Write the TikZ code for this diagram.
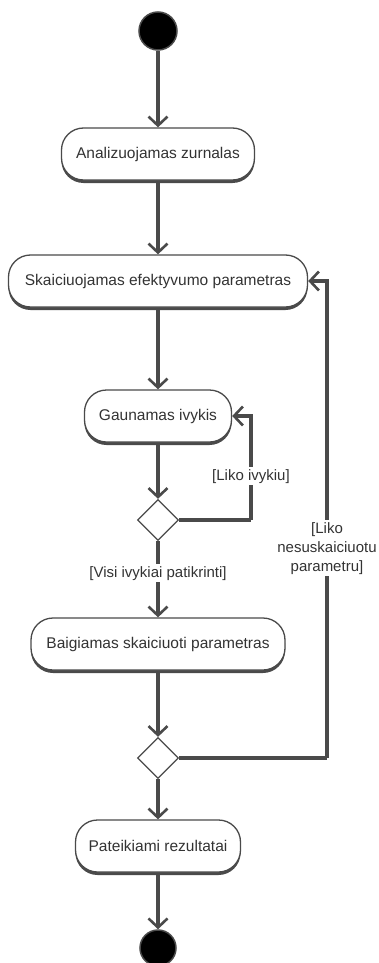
\documentclass[tikz,border=0pt]{standalone}
\usepackage{fontspec}
\setmainfont{Liberation Sans}
\usetikzlibrary{arrows.meta,shapes.geometric,shadows,calc}
\definecolor{linec}{HTML}{4A4A4A}
\definecolor{textc}{HTML}{333333}
\begin{document}
\begin{tikzpicture}[x=1pt,y=-1pt,
  act/.style={draw=linec, line width=1.3pt, fill=white, rounded corners=22pt,
    minimum height=52pt, inner sep=0pt, text=textc,
    font=\fontsize{15.5}{18}\selectfont,
    drop shadow={shadow xshift=0pt, shadow yshift=-3pt, fill=linec, opacity=1}},
  dec/.style={draw=linec, line width=1.3pt, fill=white, diamond, aspect=1,
    minimum width=41pt, minimum height=41pt, inner sep=0pt},
  blob/.style={circle, fill=black, draw=linec, line width=1.5pt, inner sep=0pt},
  flow/.style={draw=linec, line width=3.2pt, -{Straight Barb[length=9pt,width=19pt,line width=2.6pt]}},
  flowplain/.style={draw=linec, line width=3.2pt},
  guard/.style={fill=white, text=textc, inner sep=2pt, align=center,
    font=\fontsize{15}{19}\selectfont}
]
\useasboundingbox (0,0) rectangle (379,963);

\node[blob, minimum size=38pt] (start) at (158,31) {};
\node[act, minimum width=193pt] (b1) at (158,154) {Analizuojamas zurnalas};
\node[act, minimum width=299pt] (b2) at (158,281) {Skaiciuojamas efektyvumo parametras};
\node[act, minimum width=147pt] (b3) at (158,416) {Gaunamas ivykis};
\node[dec] (d1) at (158,520) {};
\node[act, minimum width=254pt] (b4) at (158,644) {Baigiamas skaiciuoti parametras};
\node[dec] (d2) at (158,758) {};
\node[act, minimum width=165pt] (b5) at (158,846) {Pateikiami rezultatai};
\node[blob, minimum size=36pt] (end) at (158,948) {};

\coordinate (c1a) at (251,520);
\coordinate (c1b) at (251,416);
\coordinate (c2a) at (327,758);
\coordinate (c2b) at (327,281);

\draw[flow] (start) -- (b1);
\draw[flow] (b1) -- (b2);
\draw[flow] (b2) -- (b3);
\draw[flow] (b3) -- (d1);
\draw[flow] (d1) -- node[guard, pos=0.42] (g1) {[Visi ivykiai patikrinti]} (b4);
\draw[flow] (b4) -- (d2);
\draw[flow] (d2) -- (b5);
\draw[flow] (b5) -- (end);

\draw[flowplain] (d1.east) -- (c1a);
\draw[flow] (c1a) -- node[guard, pos=0.42] (g2) {[Liko ivykiu]} (c1b) -- (b3.east);
\draw[flowplain] (d2.east) -- (c2a);
\draw[flow] (c2a) -- node[guard, pos=0.44] (g3) {[Liko\\nesuskaiciuotu\\parametru]} (c2b) -- (b2.east);
\end{tikzpicture}
\end{document}
